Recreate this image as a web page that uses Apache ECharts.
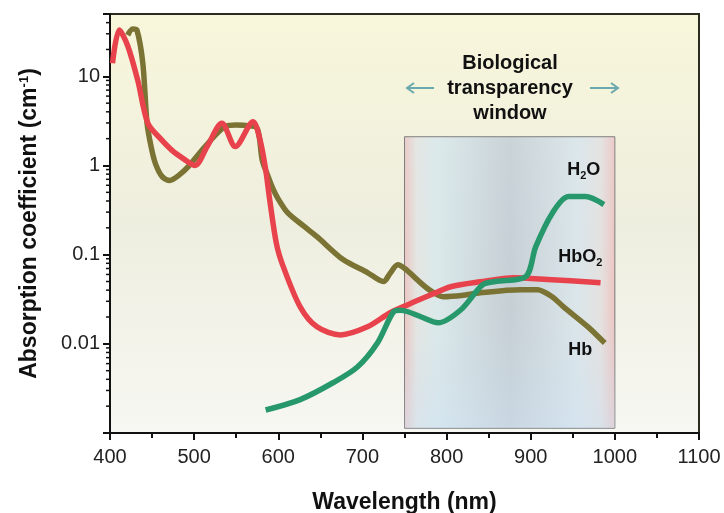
<!DOCTYPE html>
<html>
<head>
<meta charset="utf-8">
<script src="https://cdn.jsdelivr.net/npm/echarts@6/dist/echarts.min.js"></script>
<style>
  html, body { margin: 0; padding: 0; background: #fff; }
  #chart { width: 724px; height: 513px; }
</style>
</head>
<body>
<div id="chart"></div>
<script>
// absorption spectra (wavelength in nm, coefficient in cm^-1)
const hbNm = [421, 427, 432, 439, 444, 449, 454, 462, 471, 482, 493, 513, 537, 550, 564, 575, 581, 588, 594, 600, 611, 630, 646, 677, 706, 725, 733, 742, 752, 765, 780, 796, 820, 840, 888, 908, 925, 939, 968, 988]
const hbVal = [29, 34, 33, 14, 3.0, 1.6, 1.05, 0.75, 0.68, 0.78, 0.97, 1.63, 2.74, 2.85, 2.8, 2.6, 1.14, 0.75, 0.54, 0.42, 0.296, 0.21, 0.159, 0.088, 0.063, 0.05, 0.062, 0.077, 0.068, 0.0524, 0.04, 0.0337, 0.035, 0.0374, 0.0405, 0.0405, 0.034, 0.026, 0.0155, 0.0102]

const hbo2Nm = [403, 411, 421, 433, 445, 460, 474, 488, 501, 515, 533, 549, 570, 578, 585, 590, 598, 606, 626, 646, 674, 706, 733, 754, 780, 805, 840, 880, 920, 983]
const hbo2Val = [14, 33, 22, 9.0, 2.97, 2.0, 1.47, 1.18, 1.0, 1.6, 2.97, 1.63, 3.1, 2.0, 0.9, 0.4, 0.13, 0.073, 0.026, 0.0155, 0.0126, 0.0155, 0.0223, 0.0275, 0.035, 0.0437, 0.0496, 0.055, 0.0527, 0.0485]

const h2oNm = [585, 626, 665, 694, 718, 737, 745, 754, 770, 790, 817, 843, 858, 894, 906, 926, 945, 965, 987]
const h2oVal = [0.00181, 0.00237, 0.00366, 0.0055, 0.0103, 0.0229, 0.0238, 0.0229, 0.02, 0.0172, 0.0241, 0.046, 0.05, 0.0566, 0.123, 0.296, 0.448, 0.448, 0.364]

const xTicks = [400, 500, 600, 700, 800, 900, 1000, 1100]
const yTickLabels = ['0.01', '0.1', '1', '10']
const yMinorTicks = [0.002, 0.003, 0.004, 0.005, 0.006, 0.007, 0.008, 0.009,
  0.02, 0.03, 0.04, 0.05, 0.06, 0.07, 0.08, 0.09,
  0.2, 0.3, 0.4, 0.5, 0.6, 0.7, 0.8, 0.9,
  2, 3, 4, 5, 6, 7, 8, 9,
  20, 30, 40, 50]

// transparency window (nm) and its top edge
const windowNm = [750, 1000]
const windowTop = 2.1

const FONT = 'Liberation Sans'

function zip(xs, ys) {
  return xs.map((x, i) => [x, ys[i]])
}

const chart = echarts.init(document.getElementById('chart'))

const lineBase = {
  type: 'line',
  smooth: 0.3,
  showSymbol: false,
  symbol: 'none',
  silent: true,
  z: 4
}

function tagPoint(coord, text) {
  return {
    symbol: 'circle',
    symbolSize: 1,
    itemStyle: { color: 'rgba(0,0,0,0)' },
    label: {
      show: true,
      position: 'inside',
      formatter: text,
      color: '#111',
      fontFamily: FONT,
      fontSize: 18,
      fontWeight: 'bold',
      lineHeight: 24,
      rich: {
        sub: { fontFamily: FONT, fontSize: 11, fontWeight: 'bold', color: '#111', lineHeight: 24, verticalAlign: 'bottom' }
      }
    },
    data: [{ coord: coord }]
  }
}

chart.setOption({
  animation: false,
  backgroundColor: '#fff',
  grid: {
    left: 110,
    right: 25,
    top: 14,
    bottom: 80,
    outerBoundsMode: 'none',
    containLabel: false,
    show: true,
    borderColor: '#2b2b20',
    borderWidth: 2,
    backgroundColor: new echarts.graphic.LinearGradient(0, 0, 0, 1, [
      { offset: 0, color: '#f8f6da' },
      { offset: 0.5, color: '#eeeedf' },
      { offset: 1, color: '#f7f7f3' }
    ])
  },
  xAxis: {
    type: 'value',
    min: xTicks[0],
    max: xTicks[xTicks.length - 1],
    interval: 100,
    name: 'Wavelength (nm)',
    nameLocation: 'middle',
    nameGap: 58,
    nameTextStyle: { fontFamily: FONT, fontSize: 23, fontWeight: 'bold', color: '#111' },
    axisLine: { lineStyle: { color: '#111', width: 2 } },
    axisTick: { length: 7, lineStyle: { color: '#111', width: 2 } },
    minorTick: { show: true, splitNumber: 2, length: 5, lineStyle: { color: '#111', width: 2 } },
    axisLabel: { fontFamily: FONT, fontSize: 20, color: '#222', margin: 14, formatter: v => String(v) },
    splitLine: { show: false }
  },
  yAxis: {
    type: 'log',
    logBase: 10,
    min: 0.001,
    max: 50,
    name: 'Absorption coefficient (cm{sup|-1})',
    nameLocation: 'middle',
    nameGap: 68,
    nameTextStyle: {
      fontFamily: FONT, fontSize: 23, fontWeight: 'bold', color: '#111', lineHeight: 24,
      rich: {
        sup: { fontFamily: FONT, fontSize: 13, fontWeight: 'bold', color: '#111', lineHeight: 24, verticalAlign: 'top' }
      }
    },
    axisLine: { show: true, lineStyle: { color: '#111', width: 2 } },
    axisTick: { length: 7, lineStyle: { color: '#111', width: 2 } },
    axisLabel: {
      fontFamily: FONT, fontSize: 20, color: '#222', margin: 10,
      formatter: v => {
        const hit = yTickLabels.find(l => Math.abs(parseFloat(l) / v - 1) < 1e-6)
        return hit || ''
      }
    },
    splitLine: { show: false }
  },
  graphic: [
    {
      type: 'text',
      z: 10,
      style: {
        x: 510, y: 88,
        text: 'Biological\ntransparency\nwindow',
        font: 'bold 20px "Liberation Sans"',
        lineHeight: 25,
        textAlign: 'center',
        textVerticalAlign: 'middle',
        fill: '#111'
      }
    },
    {
      type: 'group',
      z: 10,
      children: [
        { type: 'line', shape: { x1: 407, y1: 88, x2: 434, y2: 88 }, style: { stroke: '#6aa9ad', lineWidth: 2 } },
        { type: 'polyline', shape: { points: [[414, 83], [407, 88], [414, 93]] }, style: { stroke: '#6aa9ad', lineWidth: 2, fill: null } },
        { type: 'line', shape: { x1: 590, y1: 88, x2: 618, y2: 88 }, style: { stroke: '#6aa9ad', lineWidth: 2 } },
        { type: 'polyline', shape: { points: [[611, 83], [618, 88], [611, 93]] }, style: { stroke: '#6aa9ad', lineWidth: 2, fill: null } }
      ]
    }
  ],
  series: [
    {
      name: 'window',
      type: 'line',
      data: [],
      z: 1,
      silent: true,
      markArea: {
        silent: true,
        data: [
          [
            {
              xAxis: windowNm[0], yAxis: 0.00113,
              itemStyle: {
                borderColor: '#777',
                borderWidth: 1,
                color: new echarts.graphic.LinearGradient(0, 0, 1, 0, [
                  { offset: 0, color: '#ecc4c0' },
                  { offset: 0.06, color: '#e4e6e2' },
                  { offset: 0.16, color: '#dbe9ea' },
                  { offset: 0.5, color: '#c6cfd4' },
                  { offset: 0.82, color: '#dbe6ea' },
                  { offset: 0.93, color: '#e4e2e0' },
                  { offset: 1, color: '#eec4c0' }
                ])
              }
            },
            { xAxis: windowNm[1], yAxis: windowTop }
          ],
          [
            {
              xAxis: windowNm[0], yAxis: 0.00113,
              itemStyle: {
                borderWidth: 0,
                color: new echarts.graphic.LinearGradient(0, 0, 0, 1, [
                  { offset: 0, color: 'rgba(225,235,238,0.15)' },
                  { offset: 0.6, color: 'rgba(205,220,235,0.0)' },
                  { offset: 1, color: 'rgba(205,225,245,0.45)' }
                ])
              }
            },
            { xAxis: windowNm[1], yAxis: windowTop }
          ]
        ]
      }
    },
    Object.assign({}, lineBase, {
      name: 'Hb',
      data: zip(hbNm, hbVal),
      lineStyle: { color: '#7a7333', width: 5.5 },
      markPoint: tagPoint([959, 0.0086], 'Hb')
    }),
    Object.assign({}, lineBase, {
      name: 'HbO2',
      data: zip(hbo2Nm, hbo2Val),
      lineStyle: { color: '#e8434d', width: 5.5 },
      markPoint: tagPoint([959, 0.095], 'HbO{sub|2}')
    }),
    Object.assign({}, lineBase, {
      name: 'H2O',
      data: zip(h2oNm, h2oVal),
      lineStyle: { color: '#27986b', width: 5.5 },
      markPoint: tagPoint([963, 0.9], 'H{sub|2}O')
    }),
    {
      name: 'yMinorTicks',
      type: 'custom',
      silent: true,
      clip: false,
      z: 6,
      data: yMinorTicks.map(v => [xTicks[0], v]),
      encode: { x: 0, y: 1 },
      renderItem: (params, api) => {
        const p = api.coord([api.value(0), api.value(1)])
        return {
          type: 'line',
          shape: { x1: p[0] - 4, y1: p[1], x2: p[0], y2: p[1] },
          style: { stroke: '#111', lineWidth: 1.5 }
        }
      }
    }
  ]
})
</script>
</body>
</html>
